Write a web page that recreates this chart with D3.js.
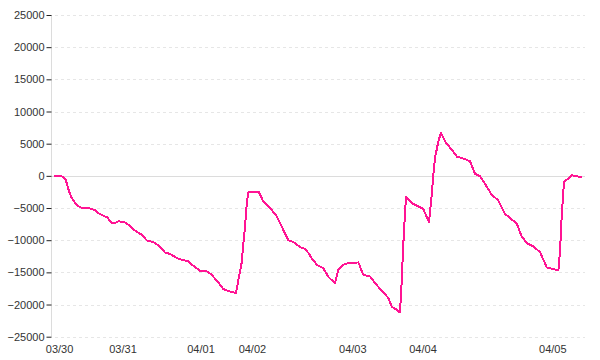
<!DOCTYPE html>
<html><head><meta charset="utf-8">
<script src="https://cdn.jsdelivr.net/npm/d3@7"></script>
<style>body{margin:0;background:#fff}svg{display:block}</style>
</head><body><svg id="c" width="600" height="360"></svg>
<script>
// sample position (uniform step) and value
const positions = [0,1.75,2.8,3.3,3.75,4.3,5,5.8,6.9,9.2,10.25,11.3,12.3,13.3,14.5,15,16.1,17.5,18.6,19.4,20.7,21.9,23.2,24.8,26.1,27.75,29,31.1,31.9,33.6,34.8,36.5,38.3,39.4,40.9,42.3,44,45.5,46.1,46.9,47.75,48.2,48.6,51.25,52.3,54,55.7,56.9,58.6,59.8,60.7,61.9,62.75,63.6,64.4,65.7,67.3,68.6,70.25,71.1,72.3,73.6,76.1,77.3,79,80.25,81.5,82.75,83.6,84.4,85.7,86.5,86.9,87.3,87.75,88,89.4,91.1,92.3,93.75,94.4,94.8,95.25,96.1,96.75,98,99.4,100.8,101.9,104,105.25,106.5,107.75,109.4,111.1,112.75,114,115.7,116.9,118.2,119.8,121.5,123.2,124.8,126.1,126.5,126.9,127.5,128.6,129.4,130.7,131.9];
const values = [0,0,-420,-1350,-2400,-3270,-3960,-4580,-4980,-5090,-5360,-5870,-6180,-6450,-7380,-7380,-7070,-7170,-7590,-8100,-8720,-9140,-10030,-10280,-10810,-11900,-12150,-12880,-13040,-13300,-13970,-14750,-14860,-15370,-16420,-17600,-17970,-18220,-16150,-13550,-7850,-4200,-2550,-2550,-3960,-4980,-6290,-7850,-10030,-10280,-10700,-11210,-11320,-11990,-12770,-13820,-14330,-15730,-16670,-14590,-13820,-13550,-13460,-15370,-15640,-16670,-17550,-18380,-19000,-20310,-20830,-21250,-16670,-10970,-5760,-3270,-4210,-4740,-5140,-7170,-3180,-60,2800,5390,6700,5140,4100,2960,2800,2270,310,-60,-1250,-2910,-3850,-5920,-6540,-7430,-9410,-10440,-10970,-11840,-14240,-14490,-14710,-11750,-6540,-930,-420,90,-60,-220];
const dateLabels = ["03/30","03/31","04/01","04/02","04/03","04/04","04/05"];
const datePositions = [1.4,17.25,36.75,49.6,74.7,92.25,124.7];
const yTicks = [25000,20000,15000,10000,5000,0,-5000,-10000,-15000,-20000,-25000];

const svg = d3.select("#c");
const x = d3.scaleLinear().domain([0,132]).range([54,582]);
const y = d3.scaleLinear().domain([-25000,25000]).range([336.7,15]);
const font = "'Liberation Sans', Arial, sans-serif";

// gridlines
svg.append("g").selectAll("line").data(yTicks.filter(d=>d!==0)).join("line")
  .attr("x1",55).attr("x2",585)
  .attr("y1",d=>Math.round(y(d))+0.5).attr("y2",d=>Math.round(y(d))+0.5)
  .attr("stroke","#e6e6e6").attr("stroke-dasharray","3,3");
svg.append("line").attr("x1",52).attr("x2",585)
  .attr("y1",Math.round(y(0))+0.5).attr("y2",Math.round(y(0))+0.5)
  .attr("stroke","#dcdcdc");

// y axis
const yAxis = d3.axisLeft(y).tickValues(yTicks).tickSize(5).tickPadding(2).tickFormat(d3.format("d"));
const gy = svg.append("g").attr("transform","translate(51.5,0)").call(yAxis);
gy.select(".domain").attr("stroke","#dcdcdc").attr("d",`M0,${y(25000)}V${y(-25000)}`);
gy.selectAll(".tick line").attr("stroke","#222");
gy.selectAll("text").attr("fill","#333").style("font-family",font).style("font-size","11px");

// x labels
svg.append("g").selectAll("text").data(dateLabels).join("text")
  .attr("x",(d,i)=>x(datePositions[i])).attr("y",353)
  .attr("text-anchor","middle").attr("fill","#333")
  .style("font-family",font).style("font-size","11px").text(d=>d);

// line
const pts = positions.map((p,i)=>[p,values[i]]);
svg.append("path").datum(pts)
  .attr("fill","none").attr("stroke","#ff1493").attr("stroke-width",2)
  .attr("stroke-linejoin","round").attr("shape-rendering","crispEdges")
  .attr("d",d3.line().x(d=>x(d[0])).y(d=>y(d[1])));
</script></body></html>
